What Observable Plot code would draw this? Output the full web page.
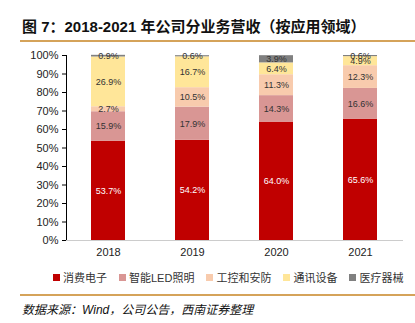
<!DOCTYPE html>
<html><head><meta charset="utf-8">
<script src="https://cdn.jsdelivr.net/npm/d3@7"></script>
<script src="https://cdn.jsdelivr.net/npm/@observablehq/plot@0.6"></script>
<style>
body{margin:0;background:#fff;}
#wrap{position:relative;width:415px;height:323px;overflow:hidden;font-family:"Liberation Sans",Arial,"Noto Sans CJK SC",sans-serif;}
#title{position:absolute;left:22px;top:15px;font-size:15px;font-weight:bold;color:#111;font-family:"Liberation Sans","Noto Sans CJK SC",sans-serif;white-space:nowrap;}
.hr{position:absolute;left:20px;width:395px;height:2px;background:#D5A35A;}
#chart{position:absolute;left:0;top:45px;}
#legend{position:absolute;left:53px;top:269px;display:flex;font-size:11px;color:#333;font-family:"Liberation Sans","Noto Sans CJK SC",sans-serif;white-space:nowrap;}
#legend .it{display:flex;align-items:center;margin-right:12px;}
#legend .sw{width:7px;height:7px;margin-right:3px;}
#source{position:absolute;left:22px;top:300px;font-size:12px;font-style:italic;color:#111;font-family:"Liberation Sans","Noto Sans CJK SC",sans-serif;white-space:nowrap;}
</style></head>
<body><div id="wrap">
<div id="title">图 7：2018-2021 年公司分业务营收（按应用领域）</div>
<div class="hr" style="top:40px"></div>
<div id="chart"></div>
<div id="legend"></div>
<div class="hr" style="top:294px"></div>
<div id="source">数据来源：Wind，公司公告，西南证券整理</div>
</div>
<script>
const years = ["2018","2019","2020","2021"];
const series = ["消费电子","智能LED照明","工控和安防","通讯设备","医疗器械"];
const colors = ["#C00000","#D99694","#F8CBAD","#FFE699","#808080"];
const consumer = [53.7,54.2,64.0,65.6];
const led = [15.9,17.9,14.3,16.6];
const security = [2.7,10.5,11.3,12.3];
const telecom = [26.9,16.7,6.4,4.9];
const medical = [0.9,0.6,3.9,0.6];
const yTicks = [0,10,20,30,40,50,60,70,80,90,100];

const cols = [consumer, led, security, telecom, medical];
const data = [];
series.forEach((s,i)=>years.forEach((y,j)=>data.push({year:y, series:s, value:cols[i][j]})));

const plot = Plot.plot({
  width:415, height:220,
  marginTop:10, marginBottom:25, marginLeft:66, marginRight:12,
  style:{fontFamily:"Liberation Sans, Arial, sans-serif", background:"transparent"},
  x:{domain:years, paddingInner:0.595, paddingOuter:0.2975, label:null, tickSize:0, tickPadding:8},
  y:{domain:[0,100], ticks:yTicks, tickFormat:d=>d+"%", label:null, tickSize:4, tickPadding:4, line:true},
  color:{domain:series, range:colors},
  marks:[
    Plot.barY(data, Plot.stackY({x:"year", y:"value", fill:"series"})),
    Plot.ruleY([0], {stroke:"#cccccc"}),
    Plot.text(data, Plot.stackY({x:"year", y:"value", text:d=>d.value.toFixed(1)+"%",
      fill:d=>d.series==="消费电子"?"#ffffff":"#333333", fontSize:9}))
  ]
});
plot.querySelectorAll('[aria-label="y-axis tick label"] text, [aria-label="x-axis tick label"] text').forEach(t=>{t.style.fontSize="11px";t.setAttribute("fill","#222");});
document.getElementById("chart").appendChild(plot);

const leg = document.getElementById("legend");
series.forEach((s,i)=>{
  const it=document.createElement("div");it.className="it";
  const sw=document.createElement("div");sw.className="sw";sw.style.background=colors[i];
  const tx=document.createElement("span");tx.textContent=s;
  it.appendChild(sw);it.appendChild(tx);leg.appendChild(it);
});
</script>
</body></html>
